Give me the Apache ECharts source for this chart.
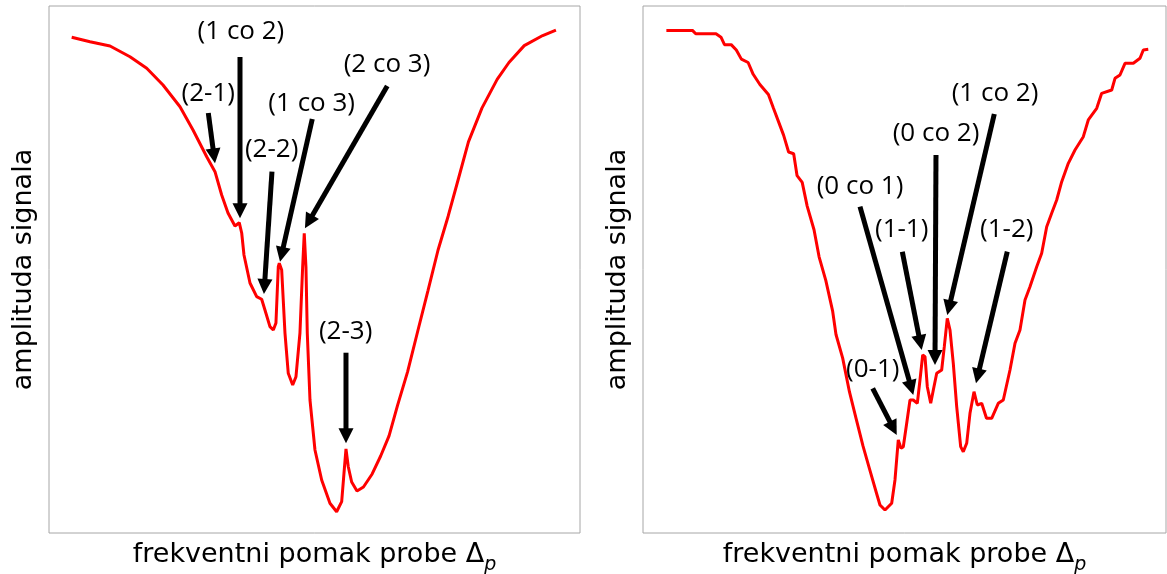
<!DOCTYPE html>
<html>
<head>
<meta charset="utf-8">
<title>amplituda signala</title>
<script src="https://cdn.jsdelivr.net/npm/echarts@6/dist/echarts.min.js"></script>
<style>
    html, body { margin: 0; padding: 0; background: #fff; }
    #chart { width: 1167px; height: 574px; }
</style>
</head>
<body>
<div id="chart"></div>
<script>
// 左图：频移（相对单位）与信号幅度
var leftFreq = [4.27, 7.72, 11.49, 15.25, 18.40, 21.47, 24.67, 27.12, 29.70, 31.26,
    32.52, 33.71, 35.02, 35.83, 36.29, 36.72, 37.85, 39.11, 40.05, 40.67,
    41.61, 42.24, 42.74, 43.18, 43.37, 43.82, 44.44, 45.06, 45.89, 46.51,
    47.26, 47.77, 48.07, 48.39, 48.64, 49.15, 50.09, 51.35, 52.91, 54.17,
    55.12, 55.55, 55.93, 56.36, 57.00, 58.00, 59.22, 60.86, 62.46, 64.04,
    65.64, 67.54, 69.45, 71.37, 73.27, 75.17, 77.09, 78.99, 81.53, 84.40,
    86.62, 89.50, 92.98, 95.47];
var leftAmp = [94.06, 93.22, 92.41, 90.38, 88.18, 85.01, 80.89, 76.47, 71.40, 68.56,
    64.14, 60.72, 58.25, 58.88, 56.93, 52.75, 47.44, 44.84, 44.35, 42.31,
    39.15, 38.52, 39.85, 50.53, 51.18, 49.90, 37.95, 30.30, 28.08, 29.66,
    37.95, 50.53, 56.87, 50.53, 37.95, 25.24, 15.75, 10.06, 5.64, 4.04,
    5.94, 11.33, 15.94, 12.58, 9.68, 7.97, 8.73, 11.20, 14.61, 18.44,
    24.21, 30.63, 38.33, 46.01, 53.70, 60.11, 67.17, 74.21, 80.63, 86.07,
    89.28, 92.48, 94.40, 95.44];

// 右图
var rightFreq = [4.47, 9.45, 10.08, 13.96, 14.91, 15.58, 16.86, 17.84, 18.81, 20.10,
    21.07, 22.35, 23.98, 24.93, 25.91, 26.88, 27.84, 28.81, 29.46, 30.44,
    31.39, 32.70, 33.67, 34.95, 36.25, 36.90, 38.18, 39.48, 40.76, 42.06,
    43.35, 44.65, 45.31, 46.27, 47.55, 48.18, 48.81, 49.33, 49.77, 50.42,
    51.05, 51.68, 52.45, 52.96, 53.48, 53.92, 54.36, 55.01, 55.51, 56.16,
    57.11, 57.61, 58.18, 58.70, 59.33, 59.98, 60.74, 61.24, 61.89, 62.52,
    63.29, 63.92, 64.76, 65.68, 66.67, 67.93, 68.89, 70.17, 71.13, 72.08,
    73.04, 73.99, 75.28, 76.23, 77.19, 78.14, 79.10, 80.06, 81.32, 82.60,
    84.19, 85.14, 86.75, 87.70, 89.62, 90.25, 91.20, 92.16, 93.75, 95.03,
    95.66, 96.61];
var rightAmp = [95.37, 95.37, 94.72, 94.72, 94.08, 92.67, 92.67, 91.65, 89.92, 89.28,
    87.04, 85.10, 83.19, 80.63, 78.06, 75.50, 72.29, 71.97, 67.80, 66.53,
    62.03, 57.55, 52.41, 47.93, 42.16, 37.67, 33.19, 26.77, 21.65, 16.53,
    12.03, 7.55, 5.31, 4.36, 5.64, 10.06, 17.65, 16.07, 16.38, 20.82,
    25.24, 25.24, 24.61, 29.03, 33.78, 33.45, 27.76, 24.61, 27.13, 30.30,
    30.93, 35.35, 40.74, 38.52, 32.20, 23.97, 16.38, 15.43, 17.02, 22.71,
    26.81, 24.29, 24.61, 21.76, 21.76, 24.61, 25.24, 30.93, 36.00, 38.52,
    44.21, 46.74, 50.53, 53.07, 58.12, 60.66, 63.19, 66.66, 70.15, 72.67,
    75.20, 78.37, 80.59, 83.43, 84.06, 86.28, 86.91, 89.13, 89.13, 90.08,
    91.65, 91.78];

// 标注：文字、文字位置、箭头起点、箭头终点（数据坐标）
var leftLabels = ['(2-1)', '(1 co 2)', '(2-2)', '(1 co 3)', '(2 co 3)', '(2-3)'];
var leftLabelAt = [[30.0, 83.3], [36.15, 95.12], [41.93, 72.67], [49.47, 81.54], [63.65, 88.80], [55.87, 38.20]];
var leftArrowFrom = [[30.0, 79.70], [35.97, 90.32], [41.99, 68.56], [49.58, 78.56], [63.70, 84.82], [55.93, 34.21]];
var leftArrowTo = [[31.26, 70.15], [35.97, 59.72], [40.48, 45.35], [43.50, 51.48], [48.20, 57.82], [55.93, 17.02]];

var rightLabels = ['(0-1)', '(0 co 1)', '(1-1)', '(0 co 2)', '(1 co 2)', '(1-2)'];
var rightLabelAt = [[43.92, 30.93], [41.49, 65.71], [49.46, 57.49], [56.02, 75.71], [67.30, 83.43], [69.54, 57.49]];
var rightArrowFrom = [[43.92, 27.46], [41.49, 61.92], [49.58, 53.38], [56.02, 71.73], [67.17, 79.51], [69.65, 53.38]];
var rightArrowTo = [[48.51, 18.60], [51.68, 26.19], [53.29, 34.72], [55.83, 31.88], [58.18, 41.37], [63.67, 28.41]];

var myChart = echarts.init(document.getElementById('chart'));

/**
 * 把两个数组拼成 [x, y] 点列
 */
function zip(xs, ys) {
    let out = [];
    for (let i = 0; i < xs.length; i++) {
        out.push([xs[i], ys[i]]);
    }
    return out;
}

/**
 * 标注数据：[文字x, 文字y, 起点x, 起点y, 终点x, 终点y]
 */
function arrowData(at, from, to) {
    let out = [];
    for (let i = 0; i < at.length; i++) {
        out.push([at[i][0], at[i][1], from[i][0], from[i][1], to[i][0], to[i][1]]);
    }
    return out;
}

/**
 * 画箭头和文字
 */
function makeArrowRenderer(labels) {
    return function (params, api) {
        let lab = api.coord([api.value(0), api.value(1)]);
        let s = api.coord([api.value(2), api.value(3)]);
        let t = api.coord([api.value(4), api.value(5)]);
        let dx = t[0] - s[0], dy = t[1] - s[1];
        let len = Math.sqrt(dx * dx + dy * dy);
        let ux = dx / len, uy = dy / len;
        let hl = 15, hw = 7.5;
        let bx = t[0] - ux * hl, by = t[1] - uy * hl;
        return {
            type: 'group',
            children: [
                {
                    type: 'line',
                    shape: { x1: s[0], y1: s[1], x2: bx + ux * 2, y2: by + uy * 2 },
                    style: { stroke: '#000', lineWidth: 5 }
                },
                {
                    type: 'polygon',
                    shape: { points: [[t[0], t[1]], [bx - uy * hw, by + ux * hw], [bx + uy * hw, by - ux * hw]] },
                    style: { fill: '#000' }
                },
                {
                    type: 'text',
                    x: lab[0],
                    y: lab[1],
                    style: {
                        text: labels[params.dataIndex],
                        fill: '#000',
                        font: '26px "Open Sans"',
                        align: 'center',
                        verticalAlign: 'middle'
                    }
                }
            ]
        };
    };
}

// x 轴标题，下标 p 用富文本
var xName = '{t|frekventni pomak probe Δ}{p|p}';
var nameRich = {
    t: { fontFamily: 'DejaVu Sans', fontSize: 27, color: '#000', verticalAlign: 'bottom', padding: [0, 0, 7, 0] },
    p: { fontFamily: 'DejaVu Sans', fontSize: 19, fontStyle: 'italic', color: '#000', verticalAlign: 'bottom' }
};

function xAxisOf(idx) {
    return {
        type: 'value', gridIndex: idx, min: 0, max: 100,
        name: xName, nameLocation: 'middle', nameGap: 8,
        nameTextStyle: { rich: nameRich },
        axisLine: { show: false }, axisTick: { show: false },
        axisLabel: { show: false }, splitLine: { show: false }
    };
}

function yAxisOf(idx) {
    return {
        type: 'value', gridIndex: idx, min: 0, max: 100,
        name: 'amplituda signala', nameLocation: 'middle', nameGap: 12, nameRotate: 90,
        nameTextStyle: { fontFamily: 'DejaVu Sans', fontSize: 27, color: '#000' },
        axisLine: { show: false }, axisTick: { show: false },
        axisLabel: { show: false }, splitLine: { show: false }
    };
}

var option = {
    animation: false,
    backgroundColor: '#fff',
    grid: [
        { left: 49, top: 6, width: 531, height: 527, outerBoundsMode: 'none', show: true, borderColor: '#a6a6a6', borderWidth: 1 },
        { left: 643, top: 6, width: 523, height: 527, outerBoundsMode: 'none', show: true, borderColor: '#a6a6a6', borderWidth: 1 }
    ],
    xAxis: [xAxisOf(0), xAxisOf(1)],
    yAxis: [yAxisOf(0), yAxisOf(1)],
    series: [
        {
            type: 'line', xAxisIndex: 0, yAxisIndex: 0,
            data: zip(leftFreq, leftAmp), showSymbol: false,
            lineStyle: { color: '#ff0000', width: 3 }
        },
        {
            type: 'line', xAxisIndex: 1, yAxisIndex: 1,
            data: zip(rightFreq, rightAmp), showSymbol: false,
            lineStyle: { color: '#ff0000', width: 3 }
        },
        {
            type: 'custom', xAxisIndex: 0, yAxisIndex: 0,
            data: arrowData(leftLabelAt, leftArrowFrom, leftArrowTo),
            encode: { x: [0, 2, 4], y: [1, 3, 5] },
            renderItem: makeArrowRenderer(leftLabels), z: 5
        },
        {
            type: 'custom', xAxisIndex: 1, yAxisIndex: 1,
            data: arrowData(rightLabelAt, rightArrowFrom, rightArrowTo),
            encode: { x: [0, 2, 4], y: [1, 3, 5] },
            renderItem: makeArrowRenderer(rightLabels), z: 5
        }
    ]
};

myChart.setOption(option);
</script>
</body>
</html>
